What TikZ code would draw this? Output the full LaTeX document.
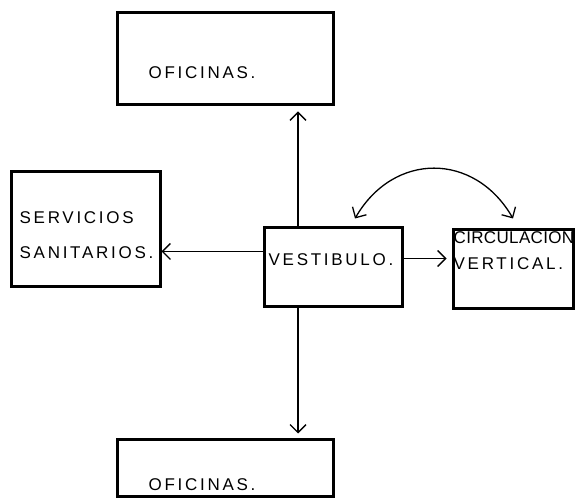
\documentclass[tikz,border=0pt]{standalone}
\usepackage{fontspec}
\newfontfamily\hand[LetterSpace=16]{Liberation Sans}
\newfontfamily\handn[LetterSpace=2]{Liberation Sans}
\usetikzlibrary{arrows.meta,positioning}

\begin{document}
\begin{tikzpicture}[x=1pt, y=1pt, >={Straight Barb[length=8pt,width=16pt]},
	box/.style = {draw, line width=3pt, inner sep=0pt},
	txt/.style = {inner sep=0pt, align=left, font=\hand\fontsize{17}{35}\selectfont},
	conn/.style = {line width=1.3pt}]
	\useasboundingbox (0,0) rectangle (575,500);
	\node[box, minimum width=216pt, minimum height=92pt] (ofiTop) at (225,441) {};
	\node[box, minimum width=149pt, minimum height=115pt] (serv) at (85.5,270.5) {};
	\node[box, minimum width=138pt, minimum height=79pt] (vest) at (333,232.5) {};
	\node[box, minimum width=120pt, minimum height=79pt] (circ) at (513,230.5) {};
	\node[box, minimum width=216pt, minimum height=57pt] (ofiBot) at (225,31.5) {};
	\node[txt, right=33pt of ofiTop.west, yshift=-14pt] (ofiTopT) {OFICINAS.};
	\node[txt, right=10pt of serv.west, yshift=-6pt] (servT) {SERVICIOS\\SANITARIOS.};
	\node[txt, right=6pt of vest.west, yshift=7.5pt] (vestT) {VESTIBULO.};
	\node[txt, font=\hand\fontsize{17}{26}\selectfont, right=2pt of circ.west, yshift=20.5pt] (circT) {{\handn CIRCULACIÓN}\\VERTICAL.};
	\node[txt, right=33pt of ofiBot.west, yshift=-16.5pt] (ofiBotT) {OFICINAS.};
	\coordinate (upV) at ([xshift=-35pt]vest.north);
	\coordinate (dnV) at ([xshift=-35pt]vest.south);
	\coordinate (lfH) at ([yshift=16pt]vest.west);
	\coordinate (rtH) at ([yshift=9pt]vest.east);
	\coordinate (cvA) at ([xshift=22pt,yshift=8pt]vest.north);
	\coordinate (cvB) at ([yshift=10pt]circ.north);
	\draw[conn, ->, shorten >=5pt] (upV) -- (upV |- ofiTop.south);
	\draw[conn, ->, shorten >=5pt] (dnV) -- (dnV |- ofiBot.north);
	\draw[conn, ->] (lfH) -- (lfH -| serv.east);
	\draw[conn, ->, shorten >=5pt] (rtH) -- (rtH -| circ.west);
	\draw[conn, <->] (cvA) to[out=60, in=120, looseness=1.25] (cvB);
\end{tikzpicture}
\end{document}
